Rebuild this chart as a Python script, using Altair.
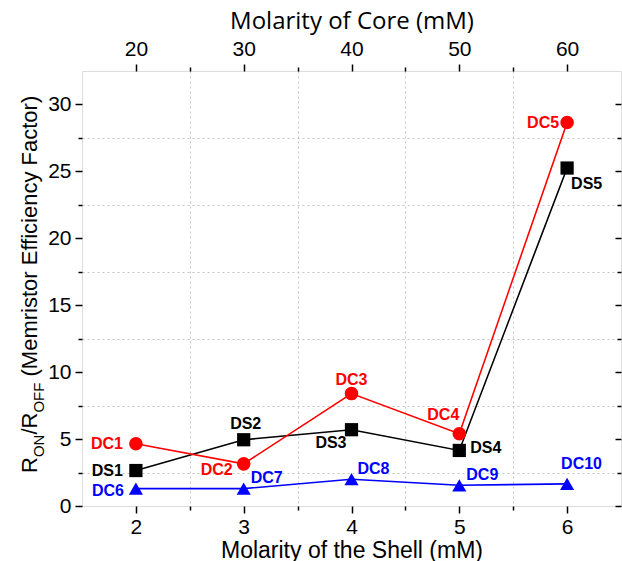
import altair as alt
import pandas as pd

# Shell molarity (mM); the core molarity on the top axis is ten times this
shell_mM = [2, 3, 4, 5, 6]

# R_ON / R_OFF ratio (memristor efficiency factor) of each device
ds_labels = ["DS1", "DS2", "DS3", "DS4", "DS5"]
ds_ratio = [2.65, 4.95, 5.7, 4.15, 25.25]

dc_red_labels = ["DC1", "DC2", "DC3", "DC4", "DC5"]
dc_red_ratio = [4.65, 3.15, 8.4, 5.4, 28.65]

dc_blue_labels = ["DC6", "DC7", "DC8", "DC9", "DC10"]
dc_blue_ratio = [1.3, 1.3, 2.0, 1.55, 1.65]

# Axis ticks
x_ticks = [2, 3, 4, 5, 6]
x_minor = [2.5, 3.5, 4.5, 5.5]
y_ticks = [0, 5, 10, 15, 20, 25, 30]
y_minor = [2.5, 7.5, 12.5, 17.5, 22.5, 27.5]

# Drawing style of each series
styles = {
    "ds": {"color": "#000000", "shape": "square", "size": 175},
    "dc_red": {"color": "#ff0000", "shape": "circle", "size": 185},
    "dc_blue": {"color": "#0000ff", "shape": "triangle-up", "size": 200},
}

# Where each point label sits relative to its marker: (align, dx, dy)
label_place = {
    "DC1": ("right", -13, 0),
    "DS1": ("right", -13, 0),
    "DC6": ("right", -12, 2),
    "DS2": ("center", 2, -16),
    "DC2": ("right", -11, 6),
    "DC7": ("left", 7, -11),
    "DS3": ("right", -5, 13),
    "DC3": ("center", 0, -14),
    "DC8": ("left", 6, -10),
    "DC4": ("right", 0, -19),
    "DS4": ("left", 11, -2),
    "DC9": ("left", 7, -10),
    "DC10": ("left", -6, -20),
    "DC5": ("right", -8, 0),
    "DS5": ("left", 4, 16),
}

frames = []
for key, labels, ratio in [
    ("ds", ds_labels, ds_ratio),
    ("dc_red", dc_red_labels, dc_red_ratio),
    ("dc_blue", dc_blue_labels, dc_blue_ratio),
]:
    frames.append(pd.DataFrame({"shell": shell_mM, "ratio": ratio,
                                "label": labels, "series": key}))
df = pd.concat(frames, ignore_index=True)

W, H = 539, 435
FONT = "Liberation Sans"
xs = alt.Scale(domain=[1.5, 6.5], nice=False, zero=False)
ys = alt.Scale(domain=[0, 32.5], nice=False, zero=False)

tick_common = dict(domain=False, tickColor="black", tickWidth=1.5,
                   labelFont=FONT, labelColor="black")
grid_common = dict(grid=True, gridColor="#c4c4c4", gridDash=[2, 3], gridWidth=1)


def axis_layer(x_axis, y_axis):
    return alt.Chart(df).mark_point(opacity=0).encode(
        x=alt.X("shell:Q", scale=xs, axis=x_axis),
        y=alt.Y("ratio:Q", scale=ys, axis=y_axis),
    )


layers = []

# bottom + left major axes
layers.append(axis_layer(
    alt.Axis(orient="bottom", values=x_ticks, format="d", grid=False,
             tickSize=7, labelFontSize=21, labelPadding=3,
             title="Molarity of the Shell (mM)", titleFont=FONT,
             titleFontSize=23, titleFontWeight="normal", titleColor="black",
             titleBaseline="alphabetic", titleY=51, **tick_common),
    alt.Axis(orient="left", values=y_ticks, format="d", grid=False,
             tickSize=7, labelFontSize=21, labelPadding=4, title=None,
             **tick_common),
))
# minor ticks with dotted grid
layers.append(axis_layer(
    alt.Axis(orient="bottom", values=x_minor, labels=False, tickSize=4,
             title=None, **grid_common, **tick_common),
    alt.Axis(orient="left", values=y_minor, labels=False, tickSize=4,
             title=None, **grid_common, **tick_common),
))
# top axis (core molarity) + inward ticks on the right edge
layers.append(axis_layer(
    alt.Axis(orient="top", values=x_ticks, labelExpr="datum.value * 10",
             grid=False, tickSize=7, labelFontSize=21, labelPadding=5,
             title="Molarity of Core (mM)", titleFont="Open Sans",
             titleFontSize=24, titleFontWeight="normal", titleColor="black",
             titleBaseline="alphabetic", titleY=-43, **tick_common),
    alt.Axis(orient="left", offset=-W, values=y_ticks, labels=False,
             grid=False, tickSize=6, title=None, **tick_common),
))
layers.append(axis_layer(
    alt.Axis(orient="top", values=x_minor, labels=False, grid=False,
             tickSize=4, title=None, **tick_common),
    alt.Axis(orient="left", offset=-W, values=y_minor, labels=False,
             grid=False, tickSize=4, title=None, **tick_common),
))

enc_x = alt.X("shell:Q", scale=xs, axis=None)
enc_y = alt.Y("ratio:Q", scale=ys, axis=None)

# connecting lines, then markers
for key, st in styles.items():
    layers.append(
        alt.Chart(df).transform_filter(alt.datum.series == key)
        .mark_line(color=st["color"], strokeWidth=1.6)
        .encode(x=enc_x, y=enc_y, order="shell:Q")
    )
for key, st in styles.items():
    layers.append(
        alt.Chart(df).transform_filter(alt.datum.series == key)
        .mark_point(shape=st["shape"], size=st["size"], filled=True,
                    opacity=1, color=st["color"], strokeWidth=0)
        .encode(x=enc_x, y=enc_y)
    )

# point labels
label_color = {lab: styles[s]["color"] for lab, s in zip(df["label"], df["series"])}
for lab, (align, dx, dy) in label_place.items():
    layers.append(
        alt.Chart(df).transform_filter(alt.datum.label == lab)
        .mark_text(align=align, baseline="middle", dx=dx, dy=dy, font=FONT,
                   fontSize=16, fontWeight="bold", color=label_color[lab])
        .encode(x=enc_x, y=enc_y, text="label:N")
    )

# rotated y title with subscripts: R_ON/R_OFF (Memristor Efficiency Factor)
em = {"R": 0.722, "O": 0.778, "N": 0.722, "/": 0.278, "F": 0.611, " ": 0.278}
MAIN, SUB = 22, 15
title_parts = [("R", MAIN, 0), ("ON", SUB, 0), ("/R", MAIN, 0), ("OFF", SUB, 0),
               ("(Memristor Efficiency Factor)", MAIN, em[" "] * MAIN)]
y_start = 402.0
for text, size, gap in title_parts:
    y_start -= gap
    base_x = -45 if size == MAIN else -38.5
    layers.append(
        alt.Chart(pd.DataFrame({"t": [text]}))
        .mark_text(angle=270, align="left", baseline="alphabetic", font=FONT,
                   fontSize=size, color="black")
        .encode(x=alt.value(base_x), y=alt.value(y_start), text="t:N")
    )
    y_start -= sum(em.get(c, 0.5) for c in text) * size

chart = (
    alt.layer(*layers)
    .resolve_axis(x="independent", y="independent")
    .properties(width=W, height=H,
                padding={"left": 82, "top": 71, "right": 1, "bottom": 55},
                autosize=alt.AutoSizeParams(type="none"))
    .configure_view(stroke="black", strokeWidth=1.6)
    .configure(background="white")
)

chart.save("out.html", embed_options={"renderer": "svg", "actions": False})
